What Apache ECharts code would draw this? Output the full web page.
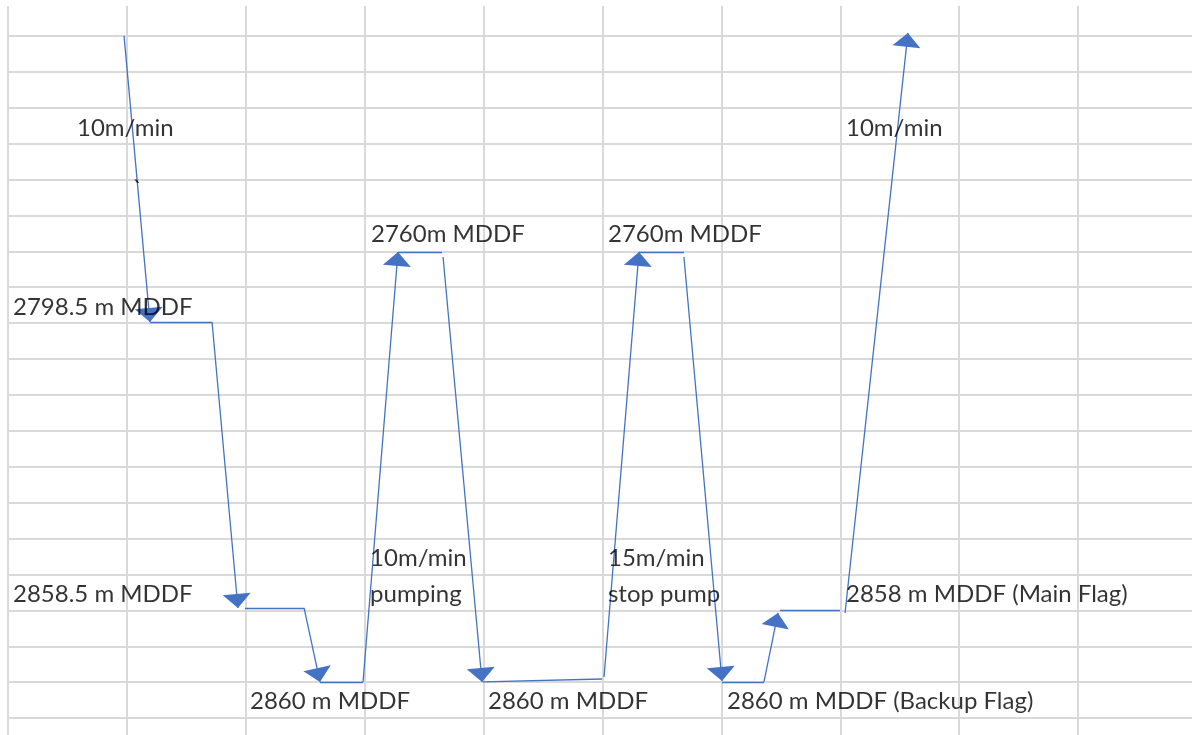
<!DOCTYPE html>
<html>
<head>
<meta charset="utf-8">
<title>Trip schedule</title>
<script src="https://cdn.jsdelivr.net/npm/echarts@6/dist/echarts.min.js"></script>
<style>
  html, body { margin: 0; padding: 0; background: #fff; overflow: hidden; }
  #chart { width: 1200px; height: 760px; }
</style>
</head>
<body>
<div id="chart"></div>
<script>
// path drawn on the sheet, in (column, row) units of the grid
const arrowSegments = [
  [[0.976, 0.0], [1.194, 7.967]],
  [[1.716, 7.967], [1.934, 15.933]],
  [[2.49, 15.933], [2.624, 17.994]],
  [[2.986, 17.994], [3.28, 6.017]],
  [[3.659, 6.156], [3.987, 17.994]],
  [[5.013, 17.855], [5.307, 6.017]],
  [[5.685, 6.156], [6.005, 17.967]],
  [[6.358, 17.994], [6.476, 16.072]],
  [[7.04, 16.072], [7.569, -0.084]],
];

const plainSegments = [
  [[1.194, 7.967], [1.716, 7.967]],
  [[1.993, 15.933], [2.49, 15.933]],
  [[2.624, 17.994], [2.986, 17.994]],
  [[3.28, 6.017], [3.65, 6.017]],
  [[3.995, 17.994], [4.996, 17.911]],
  [[5.307, 6.017], [5.685, 6.017]],
  [[6.005, 17.994], [6.358, 17.994]],
  [[6.493, 15.989], [6.997, 15.989]],
];

const noteTexts = [
  "10m/min",
  "`",
  "2798.5 m MDDF",
  "2760m MDDF",
  "2760m MDDF",
  "10m/min",
  "10m/min",
  "pumping",
  "15m/min",
  "stop pump",
  "2858.5 m MDDF",
  "2858 m MDDF (Main Flag)",
  "2860 m MDDF",
  "2860 m MDDF",
  "2860 m MDDF (Backup Flag)",
];

const noteAnchors = [
  [0.58, 2.56],
  [1.05, 4.26],
  [0.042, 7.55],
  [3.053, 5.52],
  [5.046, 5.52],
  [7.048, 2.56],
  [3.045, 14.54],
  [3.045, 15.54],
  [5.046, 14.54],
  [5.046, 15.54],
  [0.042, 15.54],
  [7.048, 15.54],
  [2.035, 18.52],
  [4.037, 18.52],
  [6.047, 18.52],
];

document.addEventListener("DOMContentLoaded", function () {
  const chart = echarts.init(document.getElementById("chart"));

  const gridLine = { show: true, lineStyle: { color: "#d9d9d9", width: 2 } };
  const lineColor = "#4472c4";
  // solid arrow head with its tip at the segment end
  const arrowHead = "path://M0,-2M0,0L-1,2L1,2Z";

  const option = {
    backgroundColor: "#ffffff",
    animation: false,
    grid: { left: 8, top: 0, width: 1189, height: 754 },
    xAxis: {
      type: "value",
      min: 0,
      max: 10,
      interval: 1,
      axisLine: { show: false },
      axisTick: { show: false },
      axisLabel: { show: false },
      splitLine: gridLine,
    },
    yAxis: {
      type: "value",
      inverse: true,
      min: -1,
      max: 20,
      interval: 1,
      axisLine: { show: false },
      axisTick: { show: false },
      axisLabel: { show: false },
      splitLine: gridLine,
    },
    graphic: [
      {
        type: "rect",
        z: 100,
        shape: { x: 0, y: 0, width: 1200, height: 6 },
        style: { fill: "#ffffff" },
      },
    ],
    series: [
      {
        type: "lines",
        coordinateSystem: "cartesian2d",
        silent: true,
        symbol: ["none", "none"],
        lineStyle: { color: lineColor, width: 1.3, opacity: 1 },
        data: plainSegments.map((s) => ({ coords: s })),
      },
      {
        type: "lines",
        coordinateSystem: "cartesian2d",
        silent: true,
        symbol: ["none", arrowHead],
        symbolSize: [13, 28],
        itemStyle: { color: lineColor },
        lineStyle: { color: lineColor, width: 1.3, opacity: 1 },
        data: arrowSegments.map((s) => ({ coords: s })),
      },
      {
        type: "scatter",
        silent: true,
        symbolSize: 0,
        z: 5,
        label: {
          show: true,
          position: "right",
          distance: 0,
          align: "left",
          verticalAlign: "middle",
          color: "#000000",
          fontFamily: "Lato",
          fontSize: 24,
          formatter: (p) => p.name,
        },
        data: noteTexts.map((t, i) => ({ name: t, value: noteAnchors[i] })),
      },
    ],
  };

  chart.setOption(option);
});
</script>
</body>
</html>
